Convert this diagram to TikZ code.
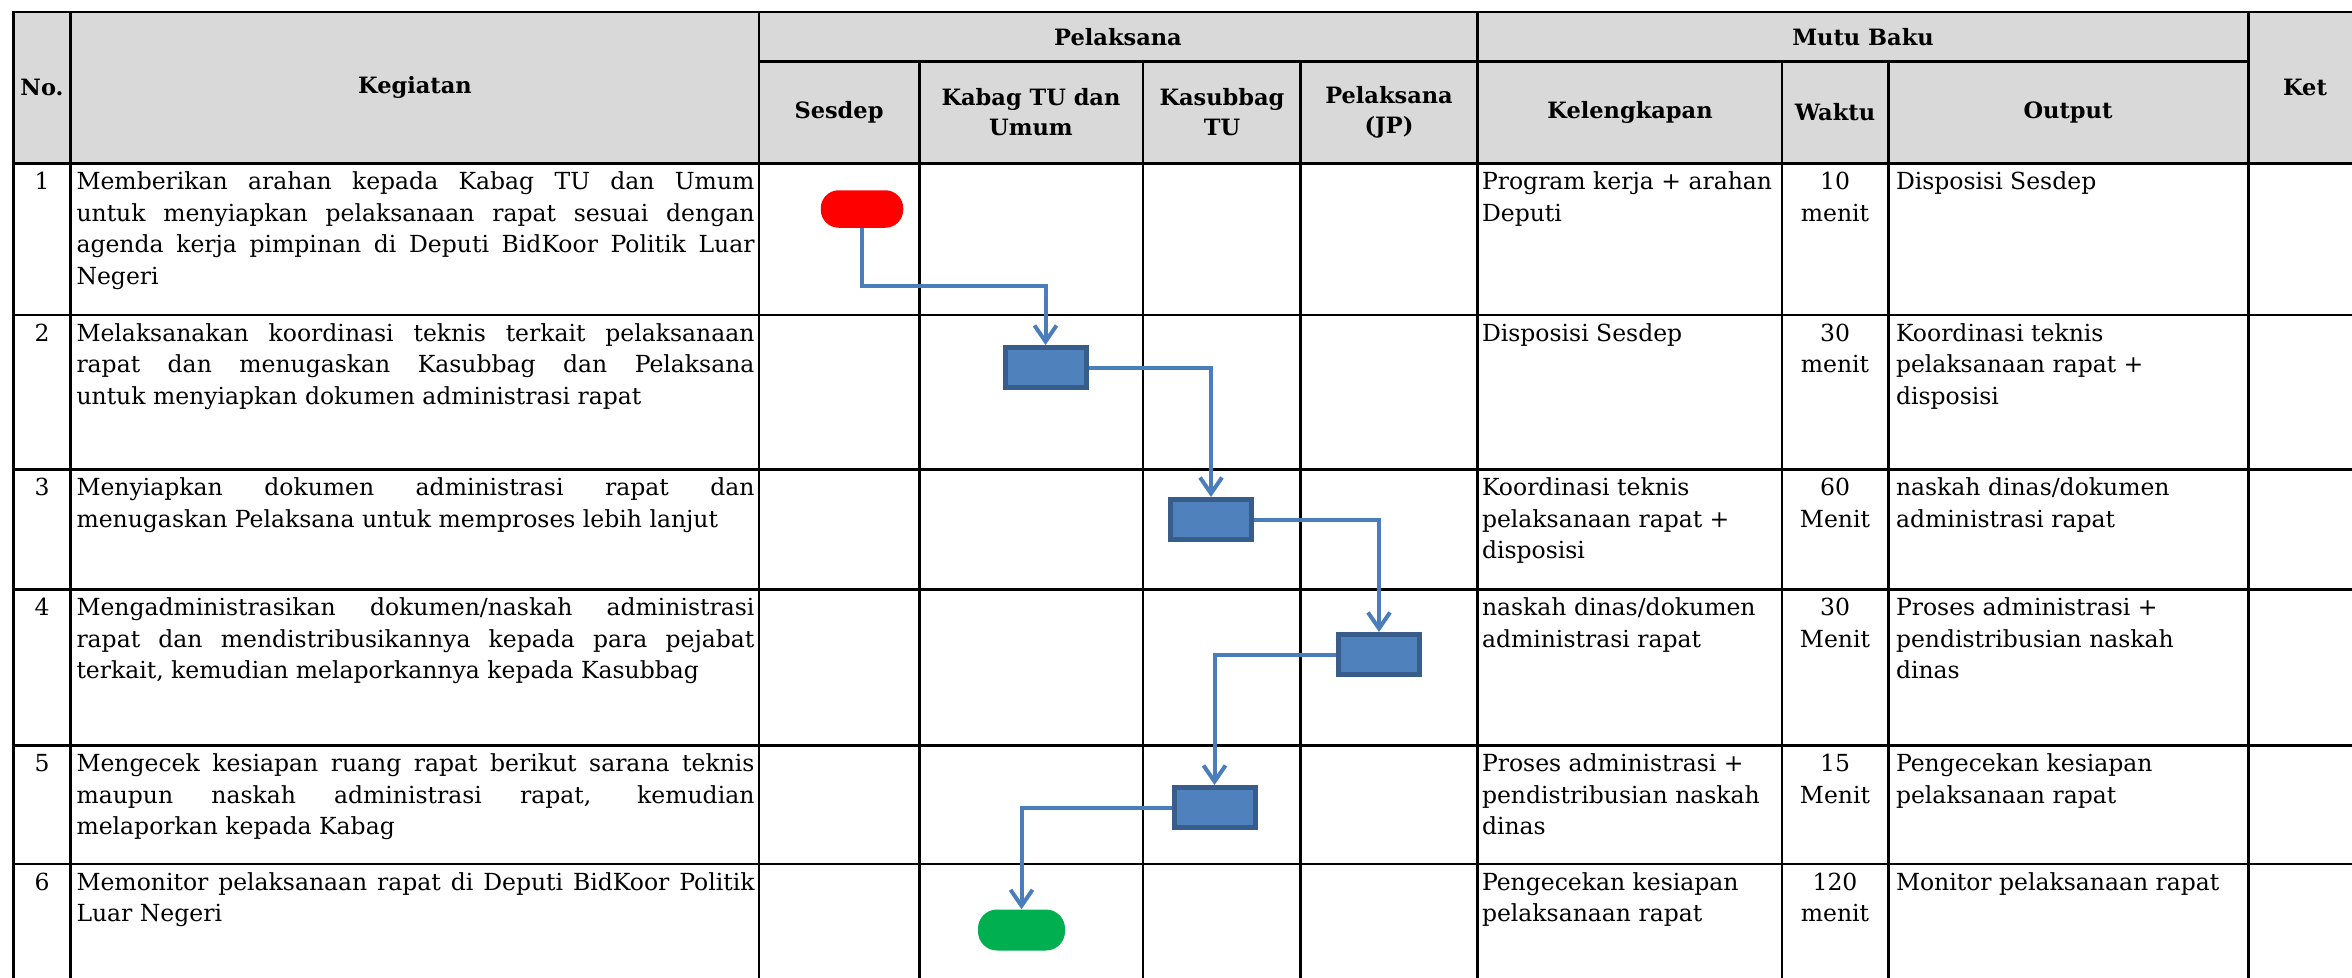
\documentclass[tikz,border=0pt]{standalone}
\usepackage{fontspec}
\setmainfont{DejaVu Serif}
\usetikzlibrary{arrows.meta}
\definecolor{hdrgray}{HTML}{D9D9D9}
\definecolor{boxfill}{HTML}{4F81BD}
\definecolor{boxline}{HTML}{385D8A}
\definecolor{connblue}{HTML}{4A7EBB}
\definecolor{startred}{HTML}{FF0000}
\definecolor{endgreen}{HTML}{00B050}
\newcommand\bodyfont{\fontsize{23.5pt}{31.5pt}\selectfont}
\newcommand\hdrfont{\fontsize{22.5pt}{30pt}\selectfont\bfseries}
\newcommand\jline[1]{\makebox[\linewidth][s]{#1}\par}
\newcommand\lline[1]{\makebox[\linewidth][l]{#1}\par}
\newcommand\kegtext[1]{\parbox[t]{678pt}{\bodyfont #1}}
\newcommand\lefttext[1]{\parbox[t]{400pt}{\raggedright\bodyfont #1}}
\newcommand\midtext[1]{\parbox[t]{100pt}{\centering\bodyfont #1}}
\begin{document}
\begin{tikzpicture}[x=1pt,y=-1pt,
  gridline/.style={line width=2.7pt, black, line cap=rect},
  hdr/.style={font=\hdrfont, align=center, inner sep=0pt},
  celltext/.style={anchor=base west, inner sep=0pt, outer sep=0pt},
  celltextc/.style={anchor=base, inner sep=0pt, outer sep=0pt},
  procbox/.style={rectangle, draw=boxline, fill=boxfill, line width=5pt,
     minimum width=81pt, minimum height=40pt, inner sep=0pt},
  startterm/.style={rectangle, rounded corners=18pt, fill=startred,
     minimum width=82.5pt, minimum height=37.5pt, inner sep=0pt},
  endterm/.style={rectangle, rounded corners=19pt, fill=endgreen,
     minimum width=87pt, minimum height=41pt, inner sep=0pt},
  conn/.style={draw=connblue, line width=4pt, -{Straight Barb[length=16pt,width=22pt]}}
]
\useasboundingbox (0,0) rectangle (2352,977);
\begin{scope}
\clip (0,0) rectangle (2352,977);
\fill[hdrgray] (13.5,12) rectangle (2400,163.5);
\foreach \yy in {12,163.5,315,469.5,589.5,745.5,864}
  \draw[gridline] (13.5,\yy) -- (2400,\yy);
\draw[gridline] (759,61.5) -- (2248.5,61.5);
\foreach \xx in {13.5,70.5,759,1477.5,2248.5}
  \draw[gridline] (\xx,12) -- (\xx,1000);
\foreach \xx in {919.5,1143,1300.5,1782,1888.5}
  \draw[gridline] (\xx,61.5) -- (\xx,1000);
\end{scope}

% header
\node[hdr] (hNo) at (42,87.5) {No.};
\node[hdr] (hKeg) at (415,87.5) {Kegiatan};
\node[hdr] (hPel) at (1118,37) {Pelaksana};
\node[hdr] (hMutu) at (1863,37) {Mutu Baku};
\node[hdr] (hKet) at (2305,87.5) {Ket};
\node[hdr] (hSes) at (839,112.5) {Sesdep};
\node[hdr] (hKab) at (1031,112.5) {Kabag TU dan\\Umum};
\node[hdr] (hKas) at (1222,112.5) {Kasubbag\\TU};
\node[hdr] (hPJP) at (1389,112.5) {Pelaksana\\(JP)};
\node[hdr] (hKel) at (1630,112.5) {Kelengkapan};
\node[hdr] (hWak) at (1835,112.5) {Waktu};
\node[hdr] (hOut) at (2068,112.5) {Output};

% row 1
\node[celltextc] (n1) at (42,189.5) {\bodyfont 1};
\node[celltext] (k1) at (76.5,189.5) {\kegtext{%
  \jline{Memberikan arahan kepada Kabag TU dan Umum}%
  \jline{untuk menyiapkan pelaksanaan rapat sesuai dengan}%
  \jline{agenda kerja pimpinan di Deputi BidKoor Politik Luar}%
  \lline{Negeri}}};
\node[celltext] (l1) at (1482,189.5) {\lefttext{Program kerja + arahan\\Deputi}};
\node[celltextc] (w1) at (1835,189.5) {\midtext{10\\menit}};
\node[celltext] (o1) at (1896,189.5) {\lefttext{Disposisi Sesdep}};

% row 2
\node[celltextc] (n2) at (42,341) {\bodyfont 2};
\node[celltext] (k2) at (76.5,341) {\kegtext{%
  \jline{Melaksanakan koordinasi teknis terkait pelaksanaan}%
  \jline{rapat dan menugaskan Kasubbag dan Pelaksana}%
  \lline{untuk menyiapkan dokumen administrasi rapat}}};
\node[celltext] (l2) at (1482,341) {\lefttext{Disposisi Sesdep}};
\node[celltextc] (w2) at (1835,341) {\midtext{30\\menit}};
\node[celltext] (o2) at (1896,341) {\lefttext{Koordinasi teknis\\pelaksanaan rapat +\\disposisi}};

% row 3
\node[celltextc] (n3) at (42,495.5) {\bodyfont 3};
\node[celltext] (k3) at (76.5,495.5) {\kegtext{%
  \jline{Menyiapkan dokumen administrasi rapat dan}%
  \lline{menugaskan Pelaksana untuk memproses lebih lanjut}}};
\node[celltext] (l3) at (1482,495.5) {\lefttext{Koordinasi teknis\\pelaksanaan rapat +\\disposisi}};
\node[celltextc] (w3) at (1835,495.5) {\midtext{60\\Menit}};
\node[celltext] (o3) at (1896,495.5) {\lefttext{naskah dinas/dokumen\\administrasi rapat}};

% row 4
\node[celltextc] (n4) at (42,615.5) {\bodyfont 4};
\node[celltext] (k4) at (76.5,615.5) {\kegtext{%
  \jline{Mengadministrasikan dokumen/naskah administrasi}%
  \jline{rapat dan mendistribusikannya kepada para pejabat}%
  \lline{terkait, kemudian melaporkannya kepada Kasubbag}}};
\node[celltext] (l4) at (1482,615.5) {\lefttext{naskah dinas/dokumen\\administrasi rapat}};
\node[celltextc] (w4) at (1835,615.5) {\midtext{30\\Menit}};
\node[celltext] (o4) at (1896,615.5) {\lefttext{Proses administrasi +\\pendistribusian naskah\\dinas}};

% row 5
\node[celltextc] (n5) at (42,771.5) {\bodyfont 5};
\node[celltext] (k5) at (76.5,771.5) {\kegtext{%
  \jline{Mengecek kesiapan ruang rapat berikut sarana teknis}%
  \jline{maupun naskah administrasi rapat, kemudian}%
  \lline{melaporkan kepada Kabag}}};
\node[celltext] (l5) at (1482,771.5) {\lefttext{Proses administrasi +\\pendistribusian naskah\\dinas}};
\node[celltextc] (w5) at (1835,771.5) {\midtext{15\\Menit}};
\node[celltext] (o5) at (1896,771.5) {\lefttext{Pengecekan kesiapan\\pelaksanaan rapat}};

% row 6
\node[celltextc] (n6) at (42,890) {\bodyfont 6};
\node[celltext] (k6) at (76.5,890) {\kegtext{%
  \jline{Memonitor pelaksanaan rapat di Deputi BidKoor Politik}%
  \lline{Luar Negeri}}};
\node[celltext] (l6) at (1482,890) {\lefttext{Pengecekan kesiapan\\pelaksanaan rapat}};
\node[celltextc] (w6) at (1835,890) {\midtext{120\\menit}};
\node[celltext] (o6) at (1896,890) {\lefttext{Monitor pelaksanaan rapat}};

% flow
\node[startterm] (t1) at (862,209) {};
\node[procbox] (b2) at (1045.5,367.5) {};
\node[procbox] (b3) at (1211,519.5) {};
\node[procbox] (b4) at (1379,654.5) {};
\node[procbox] (b5) at (1214.5,807.5) {};
\node[endterm] (t6) at (1021.5,930) {};
\coordinate (k1bend) at (0,286);

\draw[conn] (t1.south) -- (t1.south |- k1bend) -| (b2.north);
\draw[conn] (b2.east) -| (b3.north);
\draw[conn] (b3.east) -| (b4.north);
\draw[conn] (b4.west) -| (b5.north);
\draw[conn] (b5.west) -| (t6.north);
\end{tikzpicture}
\end{document}
